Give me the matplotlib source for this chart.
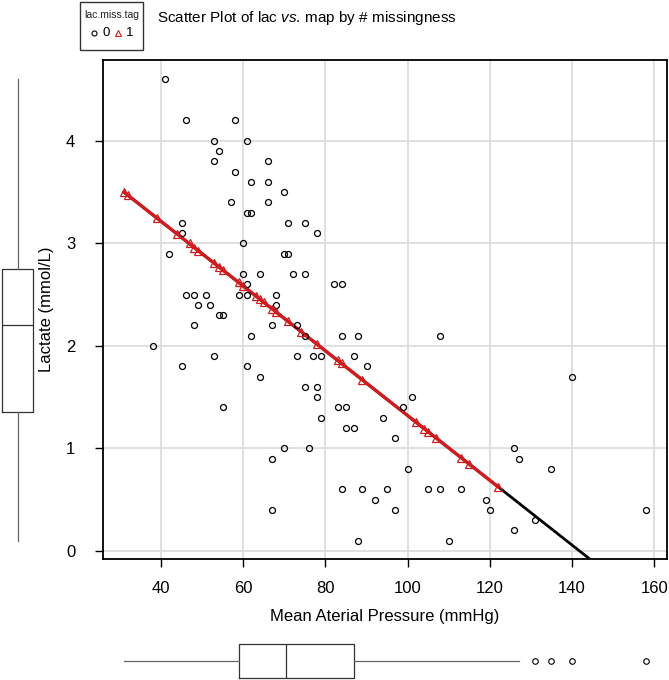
import numpy as np
import matplotlib
matplotlib.use('Agg')
import matplotlib.pyplot as plt
from matplotlib.lines import Line2D
from matplotlib.patches import Rectangle

plt.rcParams['font.family'] = ['Liberation Sans', 'DejaVu Sans']
plt.rcParams['mathtext.fontset'] = 'custom'
plt.rcParams['mathtext.rm'] = 'Liberation Sans'
plt.rcParams['mathtext.it'] = 'Liberation Sans:italic'

# observed (lac.miss.tag = 0)
obs_map = [41, 46, 58, 53, 61, 54, 53, 66, 58, 62, 66, 70, 57, 66, 61, 62, 45, 71, 75, 45,
           78, 60, 42, 70, 71, 60, 64, 72, 75, 61, 82, 84, 46, 48, 51, 59, 61, 68, 49, 52,
           68, 54, 55, 48, 67, 73, 62, 75, 84, 88, 108, 38, 53, 73, 77, 79, 87, 45, 61, 90,
           64, 140, 75, 78, 78, 101, 55, 83, 85, 99, 79, 94, 85, 87, 97, 70, 76, 126, 67, 127,
           100, 135, 84, 89, 95, 105, 108, 113, 92, 119, 67, 97, 120, 158, 131, 126, 88, 110]
obs_lac = [4.6, 4.2, 4.2, 4.0, 4.0, 3.9, 3.8, 3.8, 3.7, 3.6, 3.6, 3.5, 3.4, 3.4, 3.3, 3.3, 3.2, 3.2, 3.2, 3.1,
           3.1, 3.0, 2.9, 2.9, 2.9, 2.7, 2.7, 2.7, 2.7, 2.6, 2.6, 2.6, 2.5, 2.5, 2.5, 2.5, 2.5, 2.5, 2.4, 2.4,
           2.4, 2.3, 2.3, 2.2, 2.2, 2.2, 2.1, 2.1, 2.1, 2.1, 2.1, 2.0, 1.9, 1.9, 1.9, 1.9, 1.9, 1.8, 1.8, 1.8,
           1.7, 1.7, 1.6, 1.6, 1.5, 1.5, 1.4, 1.4, 1.4, 1.4, 1.3, 1.3, 1.2, 1.2, 1.1, 1.0, 1.0, 1.0, 0.9, 0.9,
           0.8, 0.8, 0.6, 0.6, 0.6, 0.6, 0.6, 0.6, 0.5, 0.5, 0.4, 0.4, 0.4, 0.4, 0.3, 0.2, 0.1, 0.1]

# imputed (lac.miss.tag = 1)
imp_map = [31, 32, 39, 44, 47, 48, 49, 53, 54, 55, 59, 60, 63, 64, 65, 67, 68, 71, 74, 78,
           83, 84, 89, 102, 104, 105, 107, 113, 115, 122]
imp_lac = [3.50, 3.47, 3.25, 3.09, 3.00, 2.96, 2.93, 2.81, 2.77, 2.74, 2.62, 2.58, 2.49, 2.46, 2.43, 2.36, 2.33, 2.24, 2.14, 2.02,
           1.86, 1.83, 1.67, 1.26, 1.19, 1.16, 1.10, 0.91, 0.85, 0.62]

fit_intercept = 4.48
fit_slope = -0.0316

# marginal box plot summaries (as drawn)
map_box = dict(whislo=31, q1=59, med=70.5, q3=87, whishi=127, fliers=[131, 135, 140, 158])
lac_box = dict(whislo=0.1, q1=1.35, med=2.2, q3=2.75, whishi=4.6, fliers=[])

x_ticks = [40, 60, 80, 100, 120, 140, 160]
y_ticks = [0, 1, 2, 3, 4]

W, H = 669, 680
fig = plt.figure(figsize=(W / 100, H / 100), dpi=100)

L, R, T, B = 103, 667, 60, 559
ax = fig.add_axes([L / W, 1 - B / H, (R - L) / W, (B - T) / H])
ax.set_xlim(25.9, 163.1)
ax.set_ylim(-0.08, 4.79)
ax.set_xticks(x_ticks)
ax.set_yticks(y_ticks)
ax.grid(True, color='#DADADA', lw=1.2)
ax.set_axisbelow(True)
for s in ax.spines.values():
    s.set_color('black')
    s.set_linewidth(1.3)
ax.tick_params(axis='both', direction='out', length=6, width=1, labelsize=12, colors='black')
ax.tick_params(axis='x', pad=10)
ax.tick_params(axis='y', pad=14)
ax.set_xlabel('Mean Aterial Pressure (mmHg)', fontsize=12)
ax.set_ylabel('Lactate (mmol/L)', fontsize=12)
ax.xaxis.set_label_coords(0.5, -(617 - B) / (B - T), transform=ax.transAxes)
ax.yaxis.set_label_coords(-(L - 47) / (R - L), 0.5, transform=ax.transAxes)
ax.xaxis.label.set_va('center')
ax.yaxis.label.set_va('center')

red = '#D01C1F'
# regression line
x0 = min(imp_map)
x1 = ax.get_xlim()[1]
ax.plot([x0, x1], [fit_intercept + fit_slope * x0, fit_intercept + fit_slope * x1],
        color='black', lw=2, zorder=2)
xr0, xr1 = min(imp_map), max(imp_map)
ax.plot([xr0, xr1], [fit_intercept + fit_slope * xr0, fit_intercept + fit_slope * xr1],
        color=red, lw=2.4, zorder=3)

ax.plot(obs_map, obs_lac, 'o', ms=4.3, mfc='none', mec='black', mew=0.9, zorder=4)
ax.plot(imp_map, imp_lac, '^', ms=6.2, mfc='none', mec=red, mew=0.9, zorder=4)

box_kw = dict(showcaps=False,
              boxprops=dict(color='#333333', lw=0.9),
              medianprops=dict(color='#333333', lw=0.9),
              whiskerprops=dict(color='#666666', lw=0.9),
              flierprops=dict(marker='o', ms=4, mfc='none', mec='black', mew=0.8))

# left boxplot
axl = fig.add_axes([0, 1 - B / H, 35 / W, (B - T) / H], sharey=ax)
axl.bxp([lac_box], positions=[0], widths=0.886, vert=True, **box_kw)
axl.set_xlim(-0.5, 0.5)
axl.axis('off')

# bottom boxplot
axb = fig.add_axes([L / W, 0, (R - L) / W, 38 / H], sharex=ax)
axb.bxp([map_box], positions=[0], widths=0.87, vert=False, **box_kw)
axb.set_ylim(-0.5, 0.5)
axb.axis('off')

# title
fig.text(157 / W, 1 - 18 / H, r'Scatter Plot of lac $\it{vs}$. map by # missingness',
         fontsize=11, va='center', ha='left')

# legend (drawn manually)
def fx(px):
    return px / W

def fy(py):
    return 1 - py / H

fig.add_artist(Rectangle((fx(80), fy(50)), fx(142.5) - fx(80), fy(2) - fy(50),
                         transform=fig.transFigure, fill=False, ec='#333333', lw=1.0))
fig.text(fx(111.5), fy(15), 'lac.miss.tag', fontsize=7.5, ha='center', va='center', color='#222222')
fig.add_artist(Line2D([fx(93.5)], [fy(33)], transform=fig.transFigure, ls='none',
                      marker='o', ms=3.6, mfc='none', mec='black', mew=0.8))
fig.text(fx(106), fy(33), '0', fontsize=9.5, ha='center', va='center')
fig.add_artist(Line2D([fx(118)], [fy(32.5)], transform=fig.transFigure, ls='none',
                      marker='^', ms=5, mfc='none', mec=red, mew=0.8))
fig.text(fx(130), fy(33), '1', fontsize=9.5, ha='center', va='center')

fig.savefig('out.png', dpi=100)
